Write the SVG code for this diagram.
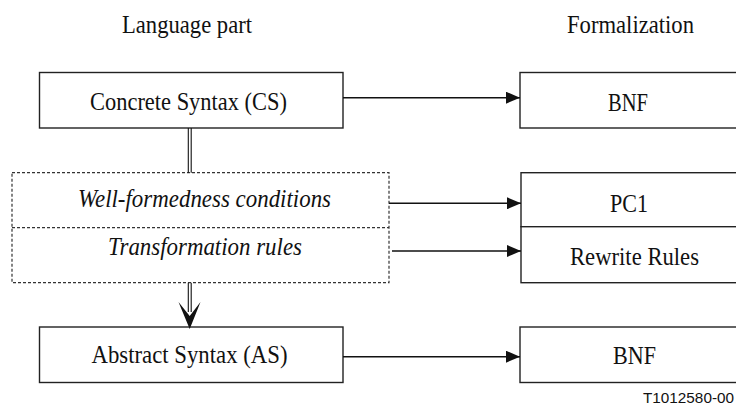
<svg xmlns="http://www.w3.org/2000/svg" width="736" height="406" viewBox="0 0 736 406">
<style>
.t{font-family:"Liberation Serif","Times New Roman",serif;font-size:25px;fill:#111}
.i{font-style:italic}
.b{fill:#fff;stroke:#222;stroke-width:1.4}
.d{fill:none;stroke:#333;stroke-width:1.2;stroke-dasharray:3,2}
.c{fill:none;stroke:#111;stroke-width:1.4}
.s{font-family:"Liberation Sans",Arial,sans-serif;font-size:14px;fill:#111}
</style>
<defs>
<marker id="ah" markerWidth="14" markerHeight="12" refX="14" refY="6" orient="auto" markerUnits="userSpaceOnUse">
<path d="M0,0 L14,6 L0,12 Z" fill="#111"/>
</marker>
</defs>
<text class="t" x="122" y="33" textLength="130" lengthAdjust="spacingAndGlyphs">Language part</text>
<text class="t" x="567" y="33" textLength="127" lengthAdjust="spacingAndGlyphs">Formalization</text>
<g id="cs"><rect class="b" x="39.5" y="72.5" width="303.5" height="55.5"/><text class="t" x="90" y="110" textLength="197" lengthAdjust="spacingAndGlyphs">Concrete Syntax (CS)</text></g>
<g id="rules"><rect class="d" x="12" y="172.7" width="377" height="110"/><line class="d" x1="12" y1="227.7" x2="389" y2="227.7"/>
<text class="t i" x="78" y="207" textLength="253" lengthAdjust="spacingAndGlyphs">Well-formedness conditions</text>
<text class="t i" x="108" y="255" textLength="194" lengthAdjust="spacingAndGlyphs">Transformation rules</text></g>
<g id="as"><rect class="b" x="39.5" y="327" width="303.5" height="55.5"/><text class="t" x="91.5" y="362.5" textLength="196" lengthAdjust="spacingAndGlyphs">Abstract Syntax (AS)</text></g>
<g id="bnf1"><rect class="b" x="520" y="72.5" width="230" height="55.5"/><text class="t" x="608" y="110.5" textLength="40" lengthAdjust="spacingAndGlyphs">BNF</text></g>
<g id="pc1"><rect class="b" x="521" y="172.7" width="230" height="54"/><text class="t" x="610" y="211.5" textLength="38" lengthAdjust="spacingAndGlyphs">PC1</text></g>
<g id="rewrite"><rect class="b" x="521" y="226.7" width="230" height="56"/><text class="t" x="570" y="265" textLength="129" lengthAdjust="spacingAndGlyphs">Rewrite Rules</text></g>
<g id="bnf2"><rect class="b" x="520" y="327" width="230" height="55.5"/><text class="t" x="613" y="364" textLength="43" lengthAdjust="spacingAndGlyphs">BNF</text></g>
<g id="connectors">
<line class="c" x1="343" y1="97.7" x2="520" y2="97.7" marker-end="url(#ah)"/>
<line class="c" x1="389" y1="203.3" x2="521" y2="203.3" marker-end="url(#ah)"/>
<line class="c" x1="392" y1="251" x2="521" y2="251" marker-end="url(#ah)"/>
<line class="c" x1="343" y1="356.7" x2="520" y2="356.7" marker-end="url(#ah)"/>
<line x1="188.3" y1="128" x2="188.3" y2="172.7" stroke="#111" stroke-width="1.1"/>
<line x1="191.2" y1="128" x2="191.2" y2="172.7" stroke="#111" stroke-width="1.1"/>
<line x1="188.3" y1="282.7" x2="188.3" y2="312" stroke="#111" stroke-width="1.1"/>
<line x1="191.2" y1="282.7" x2="191.2" y2="312" stroke="#111" stroke-width="1.1"/>
<path d="M178.5,302 L189.7,316 L200.5,302 L189.7,329 Z" fill="#111"/>
</g>
<text class="s" x="643" y="403" textLength="91" lengthAdjust="spacingAndGlyphs">T1012580-00</text>
</svg>
